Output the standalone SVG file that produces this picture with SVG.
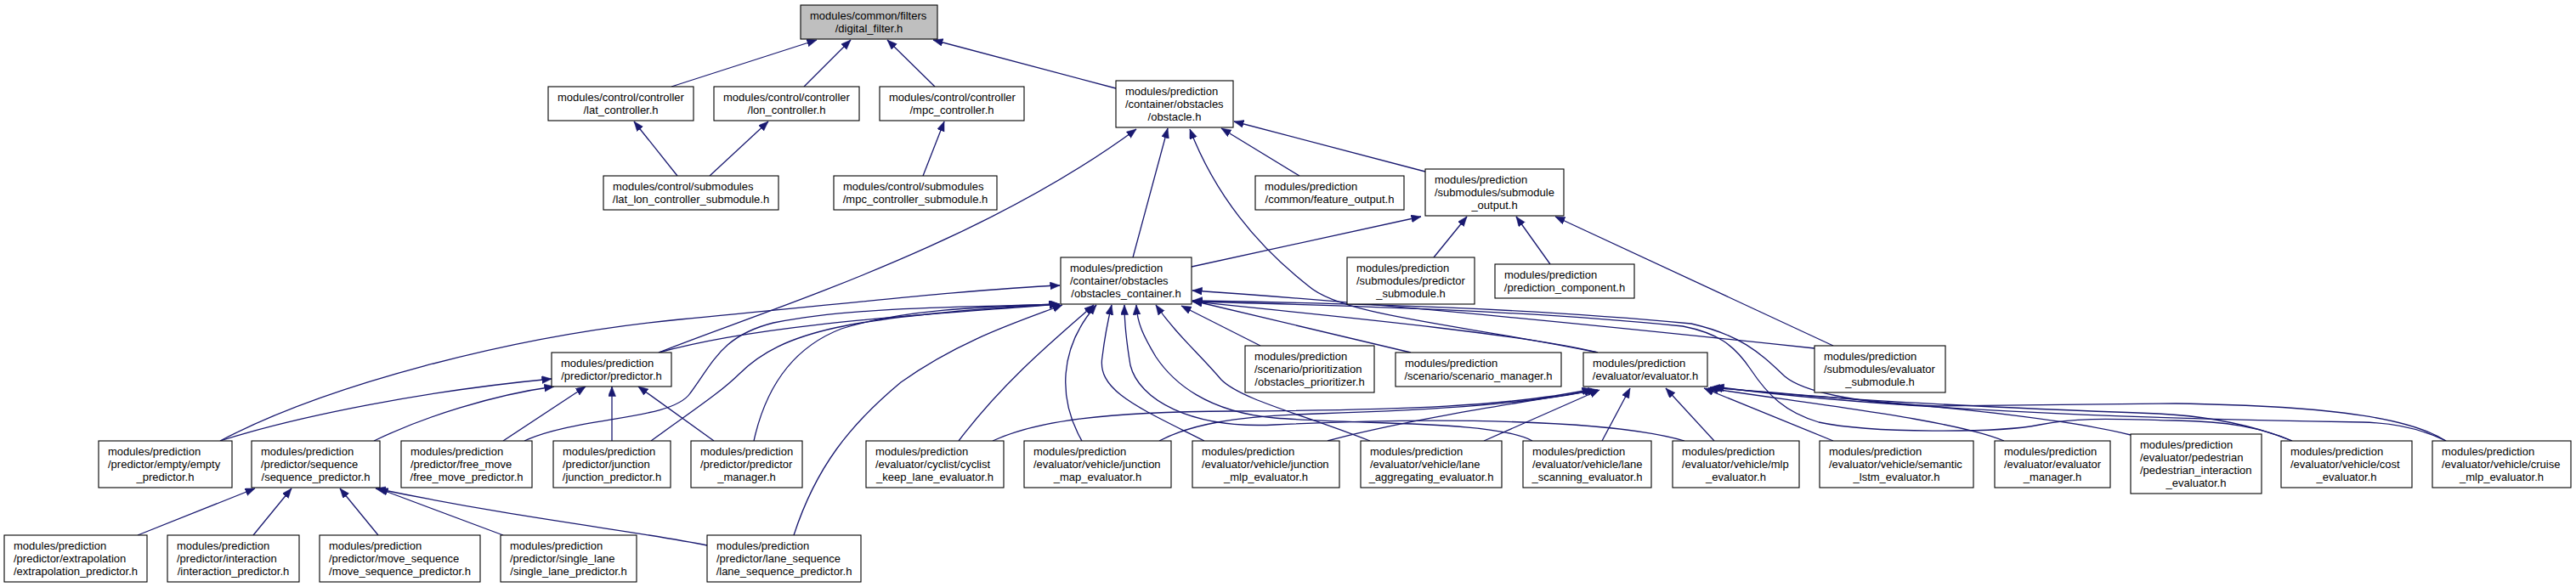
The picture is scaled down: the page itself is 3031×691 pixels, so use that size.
<svg xmlns="http://www.w3.org/2000/svg" width="3031" height="691" viewBox="0 0 3031 691">
<style>
.n rect{fill:#fff;stroke:#000;stroke-width:1.1}
.n.root rect{fill:#bfbfbf}
.n text{font-family:"Liberation Sans",Arial,Helvetica,sans-serif;font-size:13px;fill:#000}
.n text.c{text-anchor:middle}
#edges path{fill:none;stroke:#191970;stroke-width:1.3;marker-end:url(#ah)}
</style>
<defs>
<marker id="ah" markerUnits="userSpaceOnUse" markerWidth="12" markerHeight="10" refX="11.5" refY="4.5" orient="auto">
<path d="M0,0 L11.5,4.5 L0,9 Z" fill="#191970" stroke="#191970" stroke-width="0.5"/>
</marker>
</defs>
<rect width="3031" height="691" fill="#fff"/>
<g id="edges">
<path d="M790,102 L961,47"/>
<path d="M946,102 L1001,47"/>
<path d="M1100,102 L1044,47"/>
<path d="M1313,104 L1098,47"/>
<path d="M797,207 L746,143"/>
<path d="M835,207 L904,143"/>
<path d="M1086,207 L1111,143"/>
<path d="M1333,303 L1374,151"/>
<path d="M1529,207 L1437,151"/>
<path d="M1677,202 L1452,143"/>
<path d="M775,415 C900,365 1150,290 1337,152"/>
<path d="M1880,415 C1720,382 1580,372 1540,337 C1480,290 1430,230 1400,152"/>
<path d="M1402,314 L1672,255"/>
<path d="M1687,303 L1726,255"/>
<path d="M1824,311 L1784,255"/>
<path d="M2157,407 L1830,255"/>
<path d="M775,415 C900,380 1100,370 1246,358"/>
<path d="M259,519 C380,455 600,395 800,376 S1150,340 1247,336"/>
<path d="M259,519 C350,490 500,460 649,446"/>
<path d="M440,519 C500,490 580,465 652,455"/>
<path d="M592,519 L689,455"/>
<path d="M720,519 L720,455"/>
<path d="M840,519 L751,455"/>
<path d="M617,519 C680,490 790,495 812,463 C840,425 850,395 910,380 C1010,360 1150,362 1246,358"/>
<path d="M766,519 C820,480 850,460 870,440 C920,390 1000,372 1246,358"/>
<path d="M887,519 C900,460 930,410 990,387 C1060,365 1150,361 1247,358"/>
<path d="M934,630 C960,550 1000,500 1060,450 C1130,400 1200,378 1250,359"/>
<path d="M832,642 C750,625 620,612 442,575"/>
<path d="M162,630 L300,575"/>
<path d="M298,630 L343,575"/>
<path d="M445,630 L400,575"/>
<path d="M592,630 L445,575"/>
<path d="M1128,519 C1180,450 1240,400 1287,359"/>
<path d="M1273,519 C1245,470 1245,410 1290,359"/>
<path d="M1417,519 C1340,480 1290,460 1297,420 C1300,395 1303,380 1308,359"/>
<path d="M1612,519 C1530,487 1460,470 1437,447 C1410,415 1385,395 1360,359"/>
<path d="M1803,519 C1760,495 1600,500 1500,492 C1420,485 1380,450 1360,420 C1345,395 1338,380 1337,359"/>
<path d="M1982,519 C1900,495 1700,490 1500,500 C1400,505 1340,470 1330,430 C1325,400 1323,380 1323,359"/>
<path d="M1483,407 L1390,360"/>
<path d="M1660,415 L1403,354"/>
<path d="M1880,415 C1800,395 1600,375 1403,355"/>
<path d="M2135,410 C1900,385 1600,355 1403,342"/>
<path d="M2697,519 C2660,503 2620,496 2560,495 C2500,494 2450,490 2400,500 C2350,510 2200,510 2140,497 C2100,485 2080,465 2060,435 C2040,405 2020,392 1980,384 C1800,366 1600,360 1403,355"/>
<path d="M2878,519 C2840,495 2760,478 2560,475 L2280,478 C2180,475 2120,460 2100,443 C2070,415 2050,395 1990,381 C1800,363 1600,357 1403,354"/>
<path d="M1168,519 C1220,495 1300,485 1450,484 C1650,483 1780,478 1873,458"/>
<path d="M1364,519 C1400,500 1450,490 1550,487 C1700,482 1800,475 1876,459"/>
<path d="M1562,519 C1650,495 1780,475 1880,459"/>
<path d="M1746,519 L1882,459"/>
<path d="M1885,519 L1918,457"/>
<path d="M2017,519 L1960,457"/>
<path d="M2157,519 L2005,457"/>
<path d="M2358,519 C2300,495 2150,478 2010,457"/>
<path d="M2507,512 C2420,490 2250,475 2012,456"/>
<path d="M2697,519 C2650,500 2600,490 2540,487 C2300,478 2150,470 2015,456"/>
<path d="M2878,519 C2850,505 2820,498 2780,497 C2500,493 2200,480 2017,455"/>
</g>
<g id="n_df" class="n root"><rect x="942" y="6" width="161" height="40"/><text x="953" y="22.5">modules/common/filters</text><text class="c" x="1022.5" y="37.5">/digital_filter.h</text></g>
<g id="n_latc" class="n"><rect x="645" y="102" width="171" height="40"/><text x="656" y="118.5">modules/control/controller</text><text class="c" x="730.5" y="133.5">/lat_controller.h</text></g>
<g id="n_lonc" class="n"><rect x="840" y="102" width="171" height="40"/><text x="851" y="118.5">modules/control/controller</text><text class="c" x="925.5" y="133.5">/lon_controller.h</text></g>
<g id="n_mpcc" class="n"><rect x="1035" y="102" width="170" height="40"/><text x="1046" y="118.5">modules/control/controller</text><text class="c" x="1120" y="133.5">/mpc_controller.h</text></g>
<g id="n_obst" class="n"><rect x="1313" y="95" width="138" height="55"/><text x="1324" y="111.5">modules/prediction</text><text x="1324" y="126.5">/container/obstacles</text><text class="c" x="1382" y="141.5">/obstacle.h</text></g>
<g id="n_latlon" class="n"><rect x="710" y="207" width="206" height="40"/><text x="721" y="223.5">modules/control/submodules</text><text class="c" x="813" y="238.5">/lat_lon_controller_submodule.h</text></g>
<g id="n_mpcsub" class="n"><rect x="981" y="207" width="192" height="40"/><text x="992" y="223.5">modules/control/submodules</text><text class="c" x="1077" y="238.5">/mpc_controller_submodule.h</text></g>
<g id="n_feat" class="n"><rect x="1477" y="207" width="175" height="40"/><text x="1488" y="223.5">modules/prediction</text><text class="c" x="1564.5" y="238.5">/common/feature_output.h</text></g>
<g id="n_subout" class="n"><rect x="1677" y="199" width="163" height="55"/><text x="1688" y="215.5">modules/prediction</text><text x="1688" y="230.5">/submodules/submodule</text><text class="c" x="1758.5" y="245.5">_output.h</text></g>
<g id="n_oc" class="n"><rect x="1248" y="303" width="154" height="55"/><text x="1259" y="319.5">modules/prediction</text><text x="1259" y="334.5">/container/obstacles</text><text class="c" x="1325" y="349.5">/obstacles_container.h</text></g>
<g id="n_predsub" class="n"><rect x="1585" y="303" width="150" height="55"/><text x="1596" y="319.5">modules/prediction</text><text x="1596" y="334.5">/submodules/predictor</text><text class="c" x="1660" y="349.5">_submodule.h</text></g>
<g id="n_comp" class="n"><rect x="1759" y="311" width="164" height="40"/><text x="1770" y="327.5">modules/prediction</text><text class="c" x="1841" y="342.5">/prediction_component.h</text></g>
<g id="n_pred" class="n"><rect x="649" y="415" width="141" height="40"/><text x="660" y="431.5">modules/prediction</text><text class="c" x="719.5" y="446.5">/predictor/predictor.h</text></g>
<g id="n_prio" class="n"><rect x="1465" y="407" width="152" height="55"/><text x="1476" y="423.5">modules/prediction</text><text x="1476" y="438.5">/scenario/prioritization</text><text class="c" x="1541" y="453.5">/obstacles_prioritizer.h</text></g>
<g id="n_scen" class="n"><rect x="1642" y="415" width="195" height="40"/><text x="1653" y="431.5">modules/prediction</text><text class="c" x="1739.5" y="446.5">/scenario/scenario_manager.h</text></g>
<g id="n_eval" class="n"><rect x="1863" y="415" width="146" height="40"/><text x="1874" y="431.5">modules/prediction</text><text class="c" x="1936" y="446.5">/evaluator/evaluator.h</text></g>
<g id="n_evalsub" class="n"><rect x="2135" y="407" width="154" height="55"/><text x="2146" y="423.5">modules/prediction</text><text x="2146" y="438.5">/submodules/evaluator</text><text class="c" x="2212" y="453.5">_submodule.h</text></g>
<g id="n_empty" class="n"><rect x="116" y="519" width="157" height="55"/><text x="127" y="535.5">modules/prediction</text><text x="127" y="550.5">/predictor/empty/empty</text><text class="c" x="194.5" y="565.5">_predictor.h</text></g>
<g id="n_seq" class="n"><rect x="296" y="519" width="151" height="55"/><text x="307" y="535.5">modules/prediction</text><text x="307" y="550.5">/predictor/sequence</text><text class="c" x="371.5" y="565.5">/sequence_predictor.h</text></g>
<g id="n_free" class="n"><rect x="472" y="519" width="154" height="55"/><text x="483" y="535.5">modules/prediction</text><text x="483" y="550.5">/predictor/free_move</text><text class="c" x="549" y="565.5">/free_move_predictor.h</text></g>
<g id="n_junc" class="n"><rect x="651" y="519" width="138" height="55"/><text x="662" y="535.5">modules/prediction</text><text x="662" y="550.5">/predictor/junction</text><text class="c" x="720" y="565.5">/junction_predictor.h</text></g>
<g id="n_pmgr" class="n"><rect x="813" y="519" width="131" height="55"/><text x="824" y="535.5">modules/prediction</text><text x="824" y="550.5">/predictor/predictor</text><text class="c" x="878.5" y="565.5">_manager.h</text></g>
<g id="n_cyc" class="n"><rect x="1019" y="519" width="162" height="55"/><text x="1030" y="535.5">modules/prediction</text><text x="1030" y="550.5">/evaluator/cyclist/cyclist</text><text class="c" x="1100" y="565.5">_keep_lane_evaluator.h</text></g>
<g id="n_jmap" class="n"><rect x="1205" y="519" width="173" height="55"/><text x="1216" y="535.5">modules/prediction</text><text x="1216" y="550.5">/evaluator/vehicle/junction</text><text class="c" x="1291.5" y="565.5">_map_evaluator.h</text></g>
<g id="n_jmlp" class="n"><rect x="1403" y="519" width="173" height="55"/><text x="1414" y="535.5">modules/prediction</text><text x="1414" y="550.5">/evaluator/vehicle/junction</text><text class="c" x="1489.5" y="565.5">_mlp_evaluator.h</text></g>
<g id="n_lagg" class="n"><rect x="1601" y="519" width="166" height="55"/><text x="1612" y="535.5">modules/prediction</text><text x="1612" y="550.5">/evaluator/vehicle/lane</text><text class="c" x="1684" y="565.5">_aggregating_evaluator.h</text></g>
<g id="n_lscan" class="n"><rect x="1792" y="519" width="151" height="55"/><text x="1803" y="535.5">modules/prediction</text><text x="1803" y="550.5">/evaluator/vehicle/lane</text><text class="c" x="1867.5" y="565.5">_scanning_evaluator.h</text></g>
<g id="n_mlp" class="n"><rect x="1968" y="519" width="149" height="55"/><text x="1979" y="535.5">modules/prediction</text><text x="1979" y="550.5">/evaluator/vehicle/mlp</text><text class="c" x="2042.5" y="565.5">_evaluator.h</text></g>
<g id="n_sem" class="n"><rect x="2141" y="519" width="181" height="55"/><text x="2152" y="535.5">modules/prediction</text><text x="2152" y="550.5">/evaluator/vehicle/semantic</text><text class="c" x="2231.5" y="565.5">_lstm_evaluator.h</text></g>
<g id="n_emgr" class="n"><rect x="2347" y="519" width="136" height="55"/><text x="2358" y="535.5">modules/prediction</text><text x="2358" y="550.5">/evaluator/evaluator</text><text class="c" x="2415" y="565.5">_manager.h</text></g>
<g id="n_ped" class="n"><rect x="2507" y="511" width="154" height="70"/><text x="2518" y="527.5">modules/prediction</text><text x="2518" y="542.5">/evaluator/pedestrian</text><text x="2518" y="557.5">/pedestrian_interaction</text><text class="c" x="2584" y="572.5">_evaluator.h</text></g>
<g id="n_cost" class="n"><rect x="2684" y="519" width="154" height="55"/><text x="2695" y="535.5">modules/prediction</text><text x="2695" y="550.5">/evaluator/vehicle/cost</text><text class="c" x="2761" y="565.5">_evaluator.h</text></g>
<g id="n_cruise" class="n"><rect x="2862" y="519" width="163" height="55"/><text x="2873" y="535.5">modules/prediction</text><text x="2873" y="550.5">/evaluator/vehicle/cruise</text><text class="c" x="2943.5" y="565.5">_mlp_evaluator.h</text></g>
<g id="n_extra" class="n"><rect x="5" y="630" width="168" height="55"/><text x="16" y="646.5">modules/prediction</text><text x="16" y="661.5">/predictor/extrapolation</text><text class="c" x="89" y="676.5">/extrapolation_predictor.h</text></g>
<g id="n_inter" class="n"><rect x="197" y="630" width="155" height="55"/><text x="208" y="646.5">modules/prediction</text><text x="208" y="661.5">/predictor/interaction</text><text class="c" x="274.5" y="676.5">/interaction_predictor.h</text></g>
<g id="n_move" class="n"><rect x="376" y="630" width="189" height="55"/><text x="387" y="646.5">modules/prediction</text><text x="387" y="661.5">/predictor/move_sequence</text><text class="c" x="470.5" y="676.5">/move_sequence_predictor.h</text></g>
<g id="n_single" class="n"><rect x="589" y="630" width="160" height="55"/><text x="600" y="646.5">modules/prediction</text><text x="600" y="661.5">/predictor/single_lane</text><text class="c" x="669" y="676.5">/single_lane_predictor.h</text></g>
<g id="n_laneseq" class="n"><rect x="832" y="630" width="181" height="55"/><text x="843" y="646.5">modules/prediction</text><text x="843" y="661.5">/predictor/lane_sequence</text><text class="c" x="922.5" y="676.5">/lane_sequence_predictor.h</text></g>
</svg>
